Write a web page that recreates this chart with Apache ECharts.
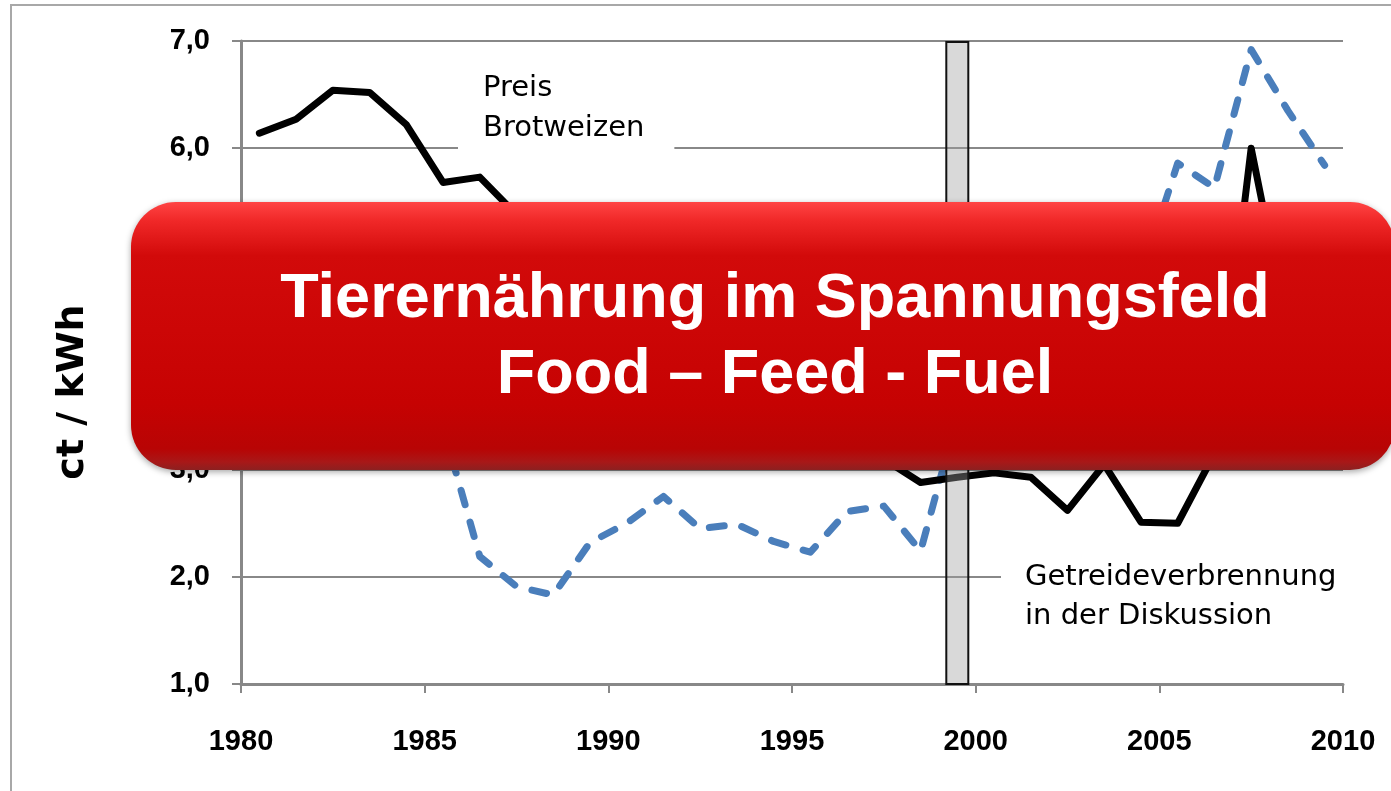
<!DOCTYPE html>
<html>
<head>
<meta charset="utf-8">
<title>Tierernährung im Spannungsfeld</title>
<script src="https://cdn.jsdelivr.net/npm/echarts@6/dist/echarts.min.js"></script>
<style>
html, body { margin: 0; padding: 0; background: #fff; }
#chart { width: 1391px; height: 791px; }
</style>
</head>
<body>
<div id="chart"></div>
<script>
// Wirtschaftsjahre, Wert jeweils in der Jahresmitte
const years = [1980, 1981, 1982, 1983, 1984, 1985, 1986, 1987, 1988, 1989,
	1990, 1991, 1992, 1993, 1994, 1995, 1996, 1997, 1998, 1999,
	2000, 2001, 2002, 2003, 2004, 2005, 2006, 2007, 2008, 2009];
// Preis Brotweizen, ct / kWh
const wheatPrice = [6.14, 6.27, 6.54, 6.52, 6.22, 5.68, 5.73, 5.38, 5.1, 4.7,
	4.5, 4.3, 4.0, 3.8, 3.6, 3.5, 3.4, 3.1, 2.88, 2.93,
	2.97, 2.93, 2.62, 3.05, 2.51, 2.5, 3.15, 6.0, 4.3, 4.5];
// Heizoel, ct / kWh (gestrichelt)
const oilPrice = [4.6, 5.0, 5.1, 4.9, 4.8, 3.4, 2.19, 1.91, 1.83, 2.32,
	2.5, 2.75, 2.45, 2.49, 2.33, 2.23, 2.61, 2.66, 2.24, 3.5,
	4.3, 4.1, 4.0, 4.3, 4.8, 5.86, 5.63, 6.92, 6.35, 5.84];
// Getreideverbrennung in der Diskussion
const markerYears = [1999];
const xTickLabels = ['1980', '1985', '1990', '1995', '2000', '2005', '2010'];
const yTickLabels = ['1,0', '2,0', '3,0', '4,0', '5,0', '6,0', '7,0'];

const chart = echarts.init(document.getElementById('chart'));
const gray = '#888888';
const labelFont = { color: '#000', fontFamily: 'Liberation Sans', fontWeight: 'bold', fontSize: 29 };

const option = {
	animation: false,
	backgroundColor: '#fff',
	grid: { left: 241, right: 48, top: 41, bottom: 107 },
	xAxis: {
		type: 'value',
		min: 1980,
		max: 2010,
		interval: 5,
		axisLine: { lineStyle: { color: gray, width: 3 } },
		axisTick: { show: true, length: 9, lineStyle: { color: gray, width: 2 } },
		axisLabel: Object.assign({
			margin: 43,
			formatter: function (v) { return xTickLabels[Math.round((v - 1980) / 5)]; }
		}, labelFont),
		splitLine: { show: false }
	},
	yAxis: {
		type: 'value',
		min: 1,
		max: 7,
		interval: 1,
		axisLine: { show: true, lineStyle: { color: gray, width: 3 } },
		axisTick: { show: true, length: 9, lineStyle: { color: gray, width: 2 } },
		axisLabel: Object.assign({
			margin: 31,
			formatter: function (v) { return yTickLabels[Math.round(v - 1)]; }
		}, labelFont),
		splitLine: { lineStyle: { color: gray, width: 2 } }
	},
	series: [
		{
			name: 'Heizöl',
			type: 'line',
			showSymbol: false,
			z: 3,
			data: years.map(function (y, i) { return [y + 0.5, oilPrice[i]]; }),
			lineStyle: { color: '#4a7ebb', width: 7, type: [15, 18], cap: 'round', join: 'round' }
		},
		{
			name: 'Preis Brotweizen',
			type: 'line',
			showSymbol: false,
			z: 4,
			data: years.map(function (y, i) { return [y + 0.5, wheatPrice[i]]; }),
			lineStyle: { color: '#000', width: 7, cap: 'round', join: 'round' }
		},
		{
			name: 'Getreideverbrennung',
			type: 'bar',
			z: 5,
			barWidth: 24,
			data: markerYears.map(function (y) { return [y + 0.5, 7]; }),
			itemStyle: { color: 'rgba(160,160,160,0.4)', borderColor: '#111', borderWidth: 2 }
		}
	],
	graphic: [
		{
			type: 'rect',
			z: 0,
			silent: true,
			shape: { x: 11, y: 5, width: 1420, height: 820 },
			style: { fill: 'transparent', stroke: '#a8a8a8', lineWidth: 2 }
		},
		{
			type: 'text',
			z: 10,
			x: 73,
			y: 392,
			rotation: Math.PI / 2,
			style: { text: 'ct / kWh', font: 'bold 38px "DejaVu Sans"', fill: '#000', align: 'center', verticalAlign: 'middle' }
		},
		{
			type: 'text',
			z: 10,
			x: 458,
			y: 62,
			style: {
				text: 'Preis\nBrotweizen', font: '29px "DejaVu Sans"', fill: '#000',
				backgroundColor: '#fff', padding: [6, 30, 8, 25], lineHeight: 40
			}
		},
		{
			type: 'text',
			z: 10,
			x: 1001,
			y: 552,
			style: {
				text: 'Getreideverbrennung\nin der Diskussion', font: '29px "DejaVu Sans"', fill: '#000',
				backgroundColor: '#fff', padding: [6, 60, 6, 24], lineHeight: 39
			}
		},
		{
			type: 'rect',
			z: 100,
			silent: true,
			shape: { x: 131, y: 202, width: 1264, height: 268, r: 45 },
			style: {
				fill: {
					type: 'linear', x: 0, y: 0, x2: 0, y2: 1,
					colorStops: [
						{ offset: 0, color: '#ff4444' },
						{ offset: 0.07, color: '#f02828' },
						{ offset: 0.2, color: '#d20a0a' },
						{ offset: 0.75, color: '#c60202' },
						{ offset: 0.92, color: '#b80404' },
						{ offset: 0.97, color: '#a81818' },
						{ offset: 1, color: '#8c2020' }
					]
				},
				shadowBlur: 6,
				shadowOffsetY: 2,
				shadowColor: 'rgba(0,0,0,0.35)'
			}
		},
		{
			type: 'text',
			z: 101,
			x: 775,
			y: 300,
			style: { text: 'Tierernährung im Spannungsfeld', font: 'bold 63px "Liberation Sans", Arial, sans-serif', fill: '#fff', align: 'center', verticalAlign: 'middle' }
		},
		{
			type: 'text',
			z: 101,
			x: 775,
			y: 376,
			style: { text: 'Food – Feed - Fuel', font: 'bold 63px "Liberation Sans", Arial, sans-serif', fill: '#fff', align: 'center', verticalAlign: 'middle' }
		}
	]
};
chart.setOption(option);
</script>
</body>
</html>
